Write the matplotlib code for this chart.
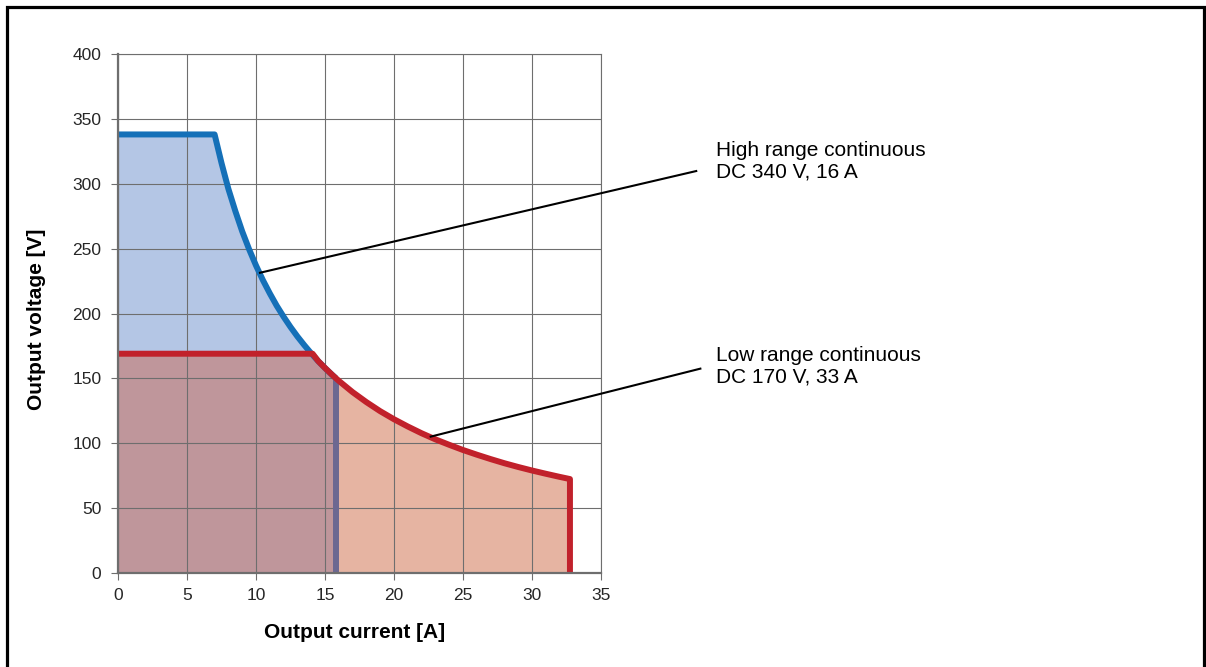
"""
Output voltage vs output current, high and low range
"""

import numpy as np
import matplotlib
matplotlib.use("Agg")
import matplotlib.pyplot as plt
from matplotlib.patches import Rectangle

# high range curve (A, V)
hi_current = [0, 7, 7.5, 8, 8.5, 9, 9.5, 10, 10.5, 11, 11.5, 12, 12.5, 13, 13.5,
              14, 14.5, 15, 15.5, 15.8]
hi_voltage = [338, 338, 316, 296, 279, 263.3, 249.5, 237, 225.7, 215.5, 206, 197.5,
              189.6, 182.3, 175.6, 169.3, 163.4, 158, 152.9, 150]

# low range curve (A, V)
lo_current = [0, 14.1, 14.5, 15, 15.5, 16, 17, 18, 19, 20, 21, 22, 23, 24, 25, 26,
              27, 28, 29, 30, 31, 32, 32.75, 32.75]
lo_voltage = [169, 169, 163.4, 158, 152.9, 148.1, 139.4, 131.7, 124.7, 118.5, 112.9,
              107.7, 103, 98.8, 94.8, 91.2, 87.8, 84.6, 81.7, 79, 76.5, 74.1, 72.4, 0]

hi_label = "High range continuous\nDC 340 V, 16 A"
lo_label = "Low range continuous\nDC 170 V, 33 A"

x_ticks = [0, 5, 10, 15, 20, 25, 30, 35]
y_ticks = [0, 50, 100, 150, 200, 250, 300, 350, 400]

grid_col = "#6e6e6e"
blue_line = "#1570b8"
blue_fill = "#b4c6e5"
red_line = "#c1212b"
red_fill = "#e6b4a2"
overlap_fill = "#bf969b"
purple_line = "#6c6891"

plt.rcParams['font.family'] = ['Liberation Sans', 'DejaVu Sans']

fig = plt.figure(figsize=(12.06, 6.67), dpi=100)
ax = fig.add_axes([118/1206, 1-573/667, (601-118)/1206, (573-54)/667])

# fills
ax.fill_between(hi_current, hi_voltage, color=blue_fill, lw=0, zorder=1)
ax.fill_between(lo_current, lo_voltage, color=red_fill, lw=0, zorder=1)
hi_i = np.array(hi_current)
overlap = np.minimum(hi_voltage, np.interp(hi_i, lo_current, lo_voltage))
ax.fill_between(hi_i, overlap, color=overlap_fill, lw=0, zorder=1.2)

# curves
lw = 4.3
ax.plot(hi_current, hi_voltage, color=blue_line, lw=lw, zorder=3,
        solid_joinstyle='round', solid_capstyle='butt')
ax.plot([hi_current[-1], hi_current[-1]], [0, hi_voltage[-1]], color=purple_line,
        lw=lw, zorder=3, solid_capstyle='butt')
ax.plot(lo_current, lo_voltage, color=red_line, lw=lw, zorder=3.1,
        solid_joinstyle='round', solid_capstyle='butt')

# grid / axes
ax.set_xlim(0, 35)
ax.set_ylim(0, 400)
ax.set_xticks(x_ticks)
ax.set_yticks(y_ticks)
ax.grid(True, color=grid_col, lw=0.8, zorder=2)
ax.set_axisbelow(False)
for s in ['top', 'right']:
    ax.spines[s].set_color(grid_col)
    ax.spines[s].set_linewidth(0.8)
for s in ['left', 'bottom']:
    ax.spines[s].set_color(grid_col)
    ax.spines[s].set_linewidth(1.6)
    ax.spines[s].set_zorder(3.5)
ax.tick_params(axis='both', direction='out', length=5, width=0.8, color=grid_col,
               labelsize=12.5, labelcolor="#262626")
ax.tick_params(axis='y', pad=7)
ax.tick_params(axis='x', pad=6)
ax.set_xlabel("Output current [A]", fontsize=15, fontweight='bold', va='center')
ax.set_ylabel("Output voltage [V]", fontsize=15, fontweight='bold', va='center')
ax.xaxis.set_label_coords(0.49, -0.1137)
ax.yaxis.set_label_coords(-0.168, 0.488)

# annotations
ax.text(43.3, 317.5, hi_label, fontsize=15, va='center', ha='left')
ax.plot([10.29, 41.9], [231.4, 309.8], color='black', lw=1.5, zorder=5, clip_on=False)
ax.text(43.3, 159.5, lo_label, fontsize=15, va='center', ha='left')
ax.plot([22.66, 42.2], [105.1, 157.5], color='black', lw=1.5, zorder=5, clip_on=False)

# outer frame
fig.add_artist(Rectangle((6.5/1206, -0.05), (1203.5-6.5)/1206, 1.05-6.5/667,
                         transform=fig.transFigure, fill=False, lw=2.3,
                         edgecolor='black'))

fig.savefig("out.png", dpi=100, facecolor='white')
